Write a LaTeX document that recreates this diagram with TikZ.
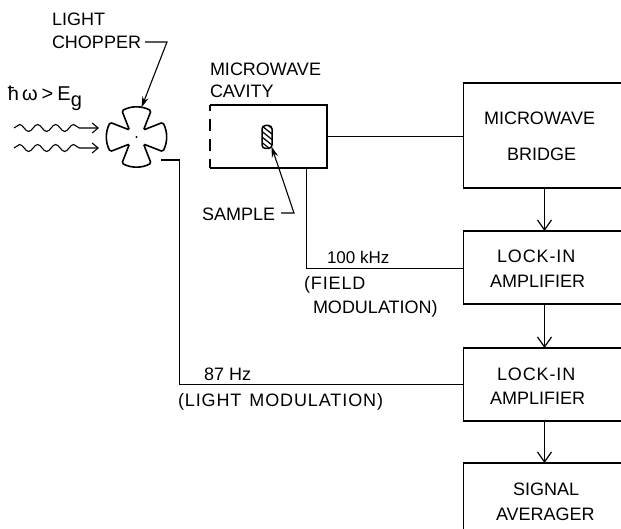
\documentclass[tikz,border=0pt]{standalone}
\usepackage{fontspec}
\setmainfont{Liberation Sans}
\newfontfamily\wideface[LetterSpace=5]{Liberation Sans}
\usetikzlibrary{arrows.meta,decorations.pathmorphing}
\tikzset{
  blockbox/.style={draw,line width=1.8pt,anchor=north west,minimum width=177pt,outer sep=0pt,inner sep=0pt},
  wire/.style={line width=1.2pt},
  flow/.style={line width=1.2pt,-{Straight Barb[length=10pt,width=14pt,line width=1.2pt]}},
  leader/.style={line width=1.1pt,-{Stealth[length=11pt,width=6.5pt]}},
  wavy/.style={line width=1.1pt,-{Straight Barb[length=6pt,width=10pt,line width=1.1pt]},decorate,decoration={snake,segment length=18pt,amplitude=3.5pt,post length=15pt}},
  lab/.style={inner sep=0pt,outer sep=0pt,anchor=base west,align=left,font=\fontsize{18}{23}\selectfont},
}
\begin{document}
\begin{tikzpicture}[x=1pt,y=-1pt]
\useasboundingbox (0,0) rectangle (621,529);
\clip (0,0) rectangle (621,529);
\fill[white] (0,0) rectangle (621,529);
% blocks
\node[blockbox,minimum height=105pt] (bridge) at (463.5,83) {};
\node[blockbox,minimum height=73pt] (lockA) at (463.5,231) {};
\node[blockbox,minimum height=73pt] (lockB) at (463.5,348) {};
\node[blockbox,minimum height=90pt] (avg) at (463.5,463) {};
\coordinate (axis) at (544.5,0);
\draw[flow] (bridge.south -| axis) -- (lockA.north -| axis);
\draw[flow] (lockA.south -| axis) -- (lockB.north -| axis);
\draw[flow] (lockB.south -| axis) -- (avg.north -| axis);
% cavity
\node[minimum width=117pt,minimum height=63pt,anchor=north west,inner sep=0pt,outer sep=0pt] (cav) at (210,105) {};
\draw[line width=1.6pt] (cav.north west) -- (cav.north east) -- (cav.south east) -- (cav.south west);
\draw[line width=1.6pt,dash pattern=on 12pt off 8pt,dash phase=6pt] (cav.north west) -- (cav.south west);
\draw[wire] (cav.east) -- (cav.east -| bridge.west);
\coordinate (fieldtop) at (306.5,168);
\draw[wire] (fieldtop) |- ([yshift=-1pt]lockA.west);
% sample
\node[minimum width=10pt,minimum height=23pt,inner sep=0pt,outer sep=0pt] (smp) at (267,137) {};
\begin{scope}
\clip[rounded corners=3.5pt] (smp.south west) rectangle (smp.north east);
\foreach \k in {-3,...,3} \draw[line width=1.2pt] (262,137+5.5*\k) -- (272,137+5.5*\k+8);
\end{scope}
\draw[line width=1.5pt,rounded corners=3.5pt] (smp.south west) rectangle (smp.north east);
\coordinate (smpbend) at (294,213);
\coordinate (smptip) at (271.5,146.5);
\coordinate (smpstart) at (281,213);
\draw[leader] (smpstart) -- (smpbend) -- (smptip);
% chopper
\begin{scope}[shift={(136.5,137)},x=1pt,y=1pt]
\draw[line width=1.6pt,rounded corners=1.5pt]
 (61:30) arc[start angle=61,end angle=119,radius=30] -- (135:10)
 -- (151:30) arc[start angle=151,end angle=209,radius=30] -- (225:10)
 -- (241:30) arc[start angle=241,end angle=299,radius=30] -- (315:10)
 -- (331:30) arc[start angle=331,end angle=389,radius=30] -- (45:10) -- cycle;
\fill (0,0) circle (1.2pt);
\end{scope}
\coordinate (chopstart) at (145,42);
\coordinate (chopbend) at (167,42);
\coordinate (choptip) at (141.5,107.5);
\draw[leader] (chopstart) -- (chopbend) -- (choptip);
\coordinate (chopout) at (161,160);
\draw[wire] (chopout) -- (179.5,160) |- (lockB.west);
% waves
\coordinate (waveAa) at (14,128); \coordinate (waveAb) at (99,128);
\coordinate (waveBa) at (14,148); \coordinate (waveBb) at (99,148);
\draw[wavy] (waveAa) -- (waveAb);
\draw[wavy] (waveBa) -- (waveBb);
% labels
\node[lab] (tlight) at (52,49) {LIGHT\\CHOPPER};
\node[lab,font=\fontsize{20}{23}\selectfont] (thw) at (8,101) {ħ\hspace{3pt}ω\hspace{4pt}>\hspace{4pt}E\raisebox{-6pt}{g}};
\node[lab,font=\fontsize{18}{22}\selectfont] (tcav) at (210,98) {MICROWAVE\\CAVITY};
\node[lab] (tsample) at (202,221) {SAMPLE};
\node[lab,font=\fontsize{18}{36}\selectfont] (tbridge) at (484,161) {MICROWAVE\\\hspace*{23pt}BRIDGE};
\node[lab,font=\fontsize{18}{25}\selectfont] (tlockA) at (490,288) {\wideface\hspace*{7pt}LOCK-IN\\AMPLIFIER};
\node[lab,font=\fontsize{18}{24}\selectfont] (tlockB) at (490,404) {\wideface\hspace*{7pt}LOCK-IN\\AMPLIFIER};
\node[lab,font=\fontsize{18}{25}\selectfont] (tavg) at (496,520) {\hspace*{17pt}SIGNAL\\AVERAGER};
\node[lab,font=\fontsize{17}{20}\selectfont] (t100) at (327,264) {100 kHz};
\node[lab,font=\fontsize{18}{24}\selectfont] (tfield) at (304,313) {\wideface (FIELD\\\hspace*{9pt}MODULATION)};
\node[lab] (t87) at (204,380) {87 Hz};
\node[lab] (tlm) at (178,406) {\wideface (LIGHT\hspace{2pt} MODULATION)};
\end{tikzpicture}
\end{document}
